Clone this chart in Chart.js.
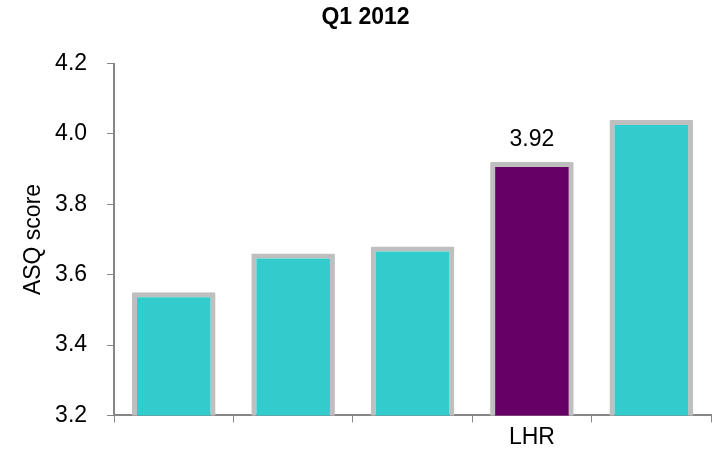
<!DOCTYPE html>
<html>
<head>
<meta charset="utf-8">
<script src="https://cdn.jsdelivr.net/npm/chart.js@4/dist/chart.umd.min.js"></script>
<style>
  html, body { margin: 0; padding: 0; background: #ffffff; }
  #wrap { width: 717px; height: 454px; position: relative; }
</style>
</head>
<body>
<div id="wrap"><canvas id="c" width="717" height="454"></canvas></div>
<script>
const categories = ["", "", "", "LHR", ""];
const scores = [3.55, 3.66, 3.68, 3.92, 4.04];
const highlighted = [false, false, false, true, false];
const yTicks = [3.2, 3.4, 3.6, 3.8, 4.0, 4.2];
const chartTitle = "Q1 2012";
const yTitle = "ASQ score";

const TEAL = "#33CCCC";
const PURPLE = "#660066";
const BORDER = "#BFBFBF";
const AXIS = "#868686";
const FONT = "'Liberation Sans', Arial, sans-serif";

const valueLabelPlugin = {
  id: "valueLabels",
  afterDatasetsDraw(chart) {
    const ctx = chart.ctx;
    const meta = chart.getDatasetMeta(0);
    ctx.save();
    ctx.font = "23px " + FONT;
    ctx.fillStyle = "#000000";
    ctx.textAlign = "center";
    ctx.textBaseline = "alphabetic";
    meta.data.forEach((bar, i) => {
      if (!highlighted[i]) return;
      ctx.fillText(scores[i].toFixed(2), bar.x, bar.y - 16);
    });
    ctx.restore();
  }
};

new Chart(document.getElementById("c"), {
  type: "bar",
  data: {
    labels: categories,
    datasets: [{
      data: scores,
      backgroundColor: highlighted.map(h => h ? PURPLE : TEAL),
      borderColor: BORDER,
      borderWidth: 5,
      borderSkipped: false,
      borderRadius: 1,
      barPercentage: 0.7,
      categoryPercentage: 1.0
    }]
  },
  options: {
    responsive: false,
    animation: false,
    devicePixelRatio: 1,
    layout: { padding: { top: 0, right: 6, bottom: 2, left: 20 } },
    plugins: {
      legend: { display: false },
      tooltip: { enabled: false },
      title: {
        display: true,
        text: chartTitle,
        color: "#000000",
        font: { family: FONT, size: 23, weight: "bold" },
        padding: { top: 4, bottom: 32 }
      }
    },
    scales: {
      x: {
        offset: true,
        grid: { display: true, drawOnChartArea: false, drawTicks: true, tickLength: 7, color: AXIS, offset: true },
        border: { display: true, color: AXIS, width: 2 },
        ticks: { color: "#000000", font: { family: FONT, size: 23 }, padding: 1, autoSkip: false, maxRotation: 0 }
      },
      y: {
        min: 3.2,
        max: 4.2,
        afterBuildTicks(scale) { scale.ticks = yTicks.map(v => ({ value: v })); },
        grid: { display: true, drawOnChartArea: false, drawTicks: true, tickLength: 7, color: AXIS },
        border: { display: true, color: AXIS, width: 2 },
        ticks: {
          color: "#000000",
          font: { family: FONT, size: 23 },
          padding: 20,
          callback: v => Number(v).toFixed(1)
        },
        title: {
          display: true,
          text: yTitle,
          color: "#000000",
          font: { family: FONT, size: 23 },
          padding: { top: 0, bottom: -12.5 }
        }
      }
    }
  },
  plugins: [valueLabelPlugin]
});
</script>
</body>
</html>
